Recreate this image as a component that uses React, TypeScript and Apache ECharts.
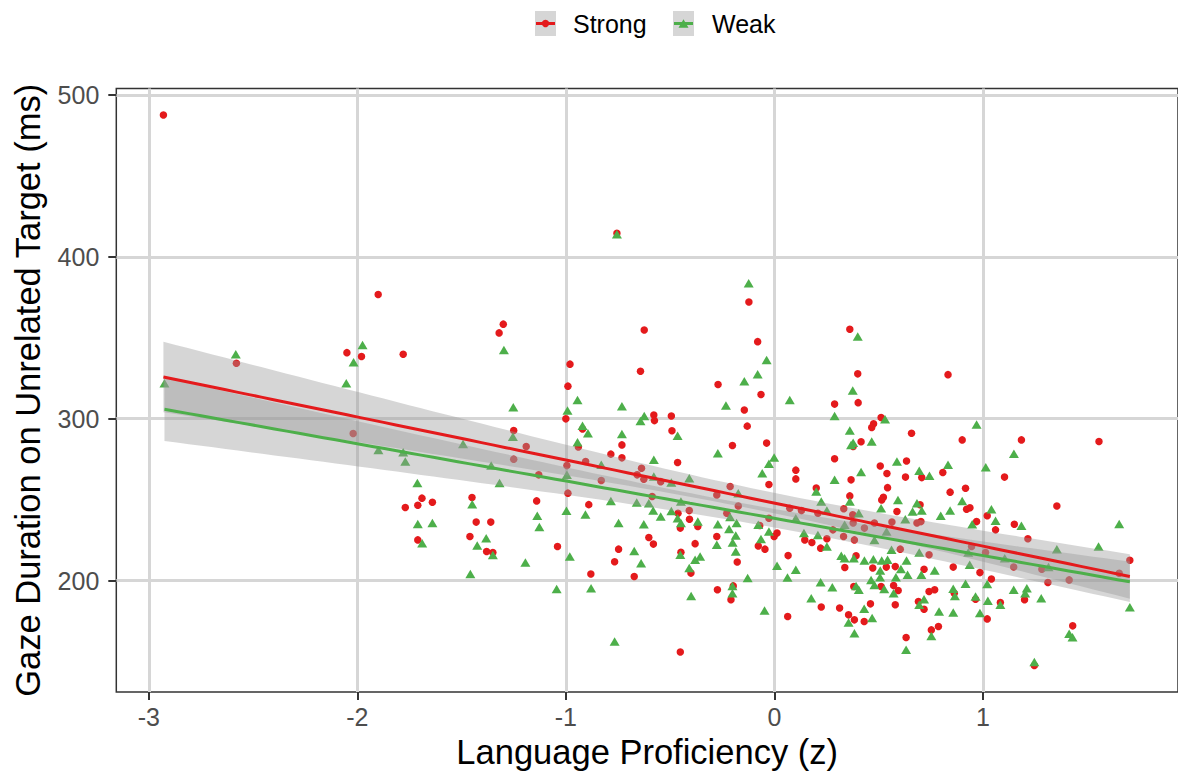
import { useEffect, useRef } from 'react';
import * as echarts from 'echarts';

// Gaze duration (ms) against language proficiency (z), per condition
const strongPoints: [number, number][] = [
  [-2.93, 487.6], [-2.58, 334.3], [-2.05, 340.8], [-1.98, 338.4], [-2.02, 290.8], [-1.9, 376.7],
  [-1.78, 339.8], [-1.77, 245.1], [-1.71, 246.5], [-1.71, 225.1], [-1.69, 250.9], [-1.64, 248.4],
  [-1.45, 251.3], [-1.43, 236.1], [-1.36, 236.1], [-1.46, 227.2], [-1.38, 217.9], [-1.35, 217.3],
  [-1.3, 358.4], [-1.32, 353.0], [-1.25, 292.7], [-1.19, 282.8], [-1.25, 275.0], [-1.13, 265.3],
  [-1.14, 249.2], [-0.98, 333.7], [-0.99, 320.1], [-1.0, 299.9], [-0.92, 293.7], [-0.94, 282.5],
  [-0.995, 271.0], [-0.905, 273.5], [-0.83, 261.8], [-0.99, 254.0], [-1.04, 221.0], [-0.89, 246.9],
  [-0.88, 204.0], [-0.755, 414.5], [-0.624, 354.8], [-0.642, 329.3], [-0.578, 302.2], [-0.575, 298.8],
  [-0.494, 301.7], [-0.731, 283.8], [-0.784, 278.1], [-0.731, 275.8], [-0.491, 292.5], [-0.464, 272.9],
  [-0.637, 269.4], [-0.658, 265.3], [-0.626, 262.6], [-0.545, 261.1], [-0.747, 219.4], [-0.766, 211.6],
  [-0.586, 251.9], [-0.602, 226.6], [-0.58, 222.5], [-0.672, 202.5], [-0.462, 241.6], [-0.407, 237.9],
  [-0.451, 232.4], [-0.448, 217.5], [-0.408, 243.2], [-0.4, 204.6], [-0.451, 155.8], [-0.38, 222.8],
  [-0.367, 233.4], [-0.122, 372.1], [-0.08, 347.6], [-0.27, 321.1], [-0.064, 314.9], [-0.144, 305.4],
  [-0.13, 295.4], [-0.201, 283.4], [-0.037, 284.9], [-0.026, 259.3], [-0.212, 258.1], [-0.276, 252.9],
  [-0.228, 241.6], [-0.173, 246.1], [-0.276, 227.2], [-0.273, 194.3], [-0.208, 188.1], [-0.197, 196.7],
  [-0.178, 211.4], [-0.077, 221.4], [-0.045, 219.4], [-0.001, 227.2], [0.013, 229.3], [-0.07, 234.0],
  [-0.026, 238.5], [0.066, 215.4], [0.064, 177.8], [0.362, 355.3], [0.4, 327.7], [0.402, 309.9],
  [0.289, 309.0], [0.512, 300.7], [0.476, 296.8], [0.467, 294.5], [0.658, 291.0], [0.416, 285.7],
  [0.378, 282.8], [0.289, 275.2], [0.103, 268.2], [0.103, 262.8], [0.508, 270.8], [0.54, 266.1],
  [0.634, 273.9], [0.629, 263.9], [0.707, 263.6], [0.808, 266.7], [0.368, 262.2], [0.201, 257.1],
  [0.543, 257.4], [0.362, 252.3], [0.523, 251.5], [0.515, 249.8], [0.588, 242.6], [0.699, 246.8],
  [0.684, 235.5], [0.703, 236.4], [0.333, 244.3], [0.376, 240.6], [0.378, 235.5], [0.432, 232.4],
  [0.48, 235.5], [0.564, 236.1], [0.332, 227.2], [0.384, 225.1], [0.281, 231.3], [0.209, 241.6],
  [0.13, 243.2], [0.074, 244.7], [0.252, 225.8], [0.146, 225.1], [0.18, 223.5], [0.222, 220.0],
  [0.604, 219.4], [0.742, 215.9], [0.392, 215.3], [0.338, 208.0], [0.472, 207.7], [0.537, 208.3],
  [0.58, 208.6], [0.718, 207.0], [0.512, 196.3], [0.572, 196.9], [0.594, 193.8], [0.381, 196.3],
  [0.225, 183.6], [0.313, 183.0], [0.461, 185.6], [0.356, 178.8], [0.384, 175.7], [0.431, 174.7],
  [0.58, 185.0], [0.718, 182.3], [0.691, 187.0], [0.742, 193.2], [0.769, 194.3], [0.787, 171.6],
  [0.753, 169.5], [0.632, 164.8], [0.833, 327.2], [0.901, 286.9], [1.185, 286.9], [1.557, 285.9],
  [1.104, 263.9], [0.917, 257.0], [0.843, 254.6], [0.922, 244.0], [0.938, 245.0], [1.021, 240.0],
  [0.97, 236.4], [1.061, 231.3], [1.151, 234.8], [1.216, 225.8], [1.355, 246.1], [1.705, 212.5],
  [1.654, 204.5], [0.946, 221.0], [1.013, 217.3], [1.148, 208.3], [1.283, 207.0], [1.312, 198.8],
  [1.414, 200.4], [0.858, 208.3], [0.986, 204.9], [1.041, 200.9], [0.863, 192.2], [0.965, 188.5],
  [1.084, 186.4], [1.2, 188.1], [1.021, 176.3], [1.431, 172.0], [1.247, 147.5],
];

const weakPoints: [number, number][] = [
  [-2.925, 321.9], [-2.583, 339.8], [-2.053, 321.9], [-1.975, 345.6], [-2.018, 334.9], [-1.899, 280.7],
  [-1.78, 279.3], [-1.77, 273.5], [-1.712, 260.3], [-1.71, 235.0], [-1.64, 235.5], [-1.689, 223.1],
  [-1.449, 247.2], [-1.382, 226.2], [-1.425, 221.6], [-1.35, 215.7], [-1.458, 204.0], [-1.297, 342.5],
  [-1.252, 307.1], [-1.254, 288.9], [-1.493, 284.4], [-1.358, 271.0], [-1.318, 260.2], [-1.137, 240.1],
  [-1.127, 233.0], [-1.194, 211.1], [-0.944, 311.6], [-0.992, 305.0], [-0.92, 295.7], [-0.894, 291.0],
  [-0.944, 285.5], [-0.995, 265.3], [-0.83, 271.5], [-0.997, 243.1], [-0.981, 214.8], [-1.044, 194.7],
  [-0.906, 240.8], [-0.879, 195.3], [-0.755, 414.0], [-0.731, 307.7], [-0.624, 301.7], [-0.642, 298.6],
  [-0.731, 290.6], [-0.464, 289.4], [-0.578, 274.6], [-0.578, 264.2], [-0.494, 260.5], [-0.408, 263.2],
  [-0.784, 249.2], [-0.747, 235.5], [-0.766, 162.3], [-0.66, 248.2], [-0.602, 247.8], [-0.626, 234.8],
  [-0.581, 243.2], [-0.545, 239.5], [-0.672, 218.2], [-0.639, 210.7], [-0.494, 242.9], [-0.464, 238.5],
  [-0.448, 235.5], [-0.451, 215.9], [-0.448, 248.8], [-0.38, 212.8], [-0.408, 207.7], [-0.399, 190.5],
  [-0.123, 383.7], [-0.037, 336.3], [-0.08, 327.5], [-0.144, 323.2], [-0.232, 308.1], [0.074, 311.6],
  [-0.271, 278.7], [-0.001, 276.0], [-0.026, 272.1], [-0.058, 266.3], [-0.047, 181.5], [-0.128, 201.5],
  [-0.201, 196.7], [-0.201, 192.2], [-0.185, 217.9], [-0.064, 225.6], [-0.026, 230.3], [-0.077, 234.4],
  [-0.276, 222.1], [-0.356, 214.8], [-0.2, 223.5], [-0.185, 227.8], [-0.217, 231.9], [-0.181, 235.5],
  [-0.271, 234.8], [-0.367, 236.4], [-0.212, 239.2], [-0.173, 254.0], [0.4, 350.7], [0.376, 317.4],
  [0.289, 301.7], [0.531, 299.7], [0.362, 292.7], [0.378, 285.2], [0.368, 283.8], [0.467, 285.9],
  [0.416, 267.0], [0.588, 273.5], [0.695, 267.8], [0.744, 264.7], [0.289, 262.2], [0.201, 255.0],
  [0.362, 248.8], [0.593, 249.8], [0.225, 248.8], [0.512, 244.7], [0.684, 247.8], [0.663, 242.6],
  [0.707, 243.2], [0.798, 240.1], [0.628, 237.9], [0.252, 243.2], [0.405, 241.6], [0.337, 234.4],
  [0.538, 230.3], [0.48, 225.1], [0.103, 238.5], [0.142, 229.3], [0.209, 228.2], [0.252, 221.0],
  [0.562, 219.0], [0.695, 217.3], [0.321, 215.3], [0.337, 213.8], [0.381, 213.8], [0.432, 212.4],
  [0.475, 213.2], [0.515, 212.4], [0.543, 212.8], [0.634, 212.4], [0.508, 206.2], [0.607, 207.2],
  [0.769, 206.2], [0.705, 203.5], [0.639, 203.5], [0.583, 202.1], [0.507, 202.1], [0.464, 200.4],
  [0.48, 197.3], [0.527, 194.7], [0.572, 192.2], [0.392, 196.7], [0.405, 194.3], [0.222, 199.0],
  [0.278, 195.9], [0.063, 201.9], [0.103, 206.6], [0.013, 209.1], [0.177, 189.1], [0.431, 182.5],
  [0.356, 174.1], [0.469, 176.8], [0.384, 167.5], [0.695, 185.0], [0.718, 188.5], [0.79, 180.9],
  [0.753, 165.8], [0.632, 157.2], [0.97, 296.4], [1.149, 278.3], [0.833, 271.5], [1.014, 270.0],
  [0.901, 249.2], [0.843, 243.2], [1.041, 244.1], [0.949, 234.8], [1.061, 236.9], [1.185, 233.8],
  [1.654, 235.0], [1.555, 221.0], [1.705, 183.5], [1.355, 219.4], [0.93, 217.3], [0.937, 209.7],
  [1.105, 213.8], [1.315, 208.3], [1.021, 197.8], [0.917, 198.0], [0.858, 194.9], [0.866, 190.5],
  [0.965, 190.1], [1.024, 187.5], [1.084, 185.0], [1.148, 194.3], [1.211, 195.3], [1.203, 192.2],
  [1.28, 189.1], [0.858, 180.2], [0.986, 179.9], [1.414, 167.1], [1.43, 165.0], [1.247, 149.6],
];

const groupNames = ['Strong', 'Weak'];
const groupColors = ['#E41A1C', '#4DAF4A'];
const xTicks = [-3, -2, -1, 0, 1];
const yTicks = [200, 300, 400, 500];
const xRange = [-3.156, 1.936];
const yRange = [131.07, 504.0];

const FONT = '"Liberation Sans", Arial, Helvetica, sans-serif';

// Ordinary least squares with a 95% confidence band, like geom_smooth(method = "lm")
function linearFit(points: [number, number][]) {
  const n = points.length;
  let mx = 0;
  let my = 0;
  points.forEach(([x, y]) => { mx += x; my += y; });
  mx /= n;
  my /= n;
  let sxx = 0;
  let sxy = 0;
  points.forEach(([x, y]) => { sxx += (x - mx) ** 2; sxy += (x - mx) * (y - my); });
  const slope = sxy / sxx;
  const intercept = my - slope * mx;
  let sse = 0;
  points.forEach(([x, y]) => { sse += (y - (intercept + slope * x)) ** 2; });
  const s = Math.sqrt(sse / (n - 2));
  const tCrit = 1.972;
  const xs = points.map((p) => p[0]);
  const x0 = Math.min(...xs);
  const x1 = Math.max(...xs);
  const steps = 80;
  const line: [number, number][] = [];
  const upper: [number, number][] = [];
  const lower: [number, number][] = [];
  for (let i = 0; i < steps; i++) {
    const x = x0 + ((x1 - x0) * i) / (steps - 1);
    const yHat = intercept + slope * x;
    const se = s * Math.sqrt(1 / n + (x - mx) ** 2 / sxx);
    line.push([x, yHat]);
    upper.push([x, yHat + tCrit * se]);
    lower.push([x, yHat - tCrit * se]);
  }
  return { line, upper, lower };
}

export default function App() {
  const ref = useRef<HTMLDivElement>(null);

  useEffect(() => {
    document.body.style.margin = '0';
    if (!ref.current) return;
    const chart = echarts.init(ref.current, undefined, { renderer: 'svg' });
    const fits = [linearFit(strongPoints), linearFit(weakPoints)];

    const bandSeries = fits.map((f, i) => ({
      type: 'custom',
      name: groupNames[i] + ' band',
      z: 3,
      silent: true,
      data: [[f.lower[0][0], f.lower[0][1]]],
      renderItem: (_params: any, api: any) => ({
        type: 'polygon',
        shape: {
          points: [...f.upper, ...f.lower.slice().reverse()].map((p) => api.coord(p)),
        },
        style: { fill: 'rgba(153,153,153,0.4)' },
      }),
    }));

    const lineSeries = fits.map((f, i) => ({
      type: 'line',
      name: groupNames[i] + ' fit',
      z: 4,
      data: f.line,
      symbol: 'none',
      lineStyle: { color: groupColors[i], width: 3 },
      silent: true,
    }));

    const scatterSeries = [
      {
        type: 'scatter',
        name: groupNames[0],
        data: strongPoints,
        symbol: 'circle',
        symbolSize: 7.5,
        itemStyle: { color: groupColors[0], opacity: 1 },
        z: 2,
      },
      {
        type: 'scatter',
        name: groupNames[1],
        data: weakPoints,
        symbol: 'triangle',
        symbolSize: [10, 8.5],
        itemStyle: { color: groupColors[1], opacity: 1 },
        z: 2,
      },
    ];

    // Legend: grey key box with the group's line and marker, then the label
    const legendGraphics: any[] = [];
    const keyX = [535, 673];
    const textX = [573, 712];
    groupNames.forEach((name, i) => {
      const kx = keyX[i];
      legendGraphics.push(
        { type: 'rect', shape: { x: kx, y: 11, width: 21, height: 25 }, style: { fill: '#d6d6d6' } },
        { type: 'line', shape: { x1: kx + 1, y1: 23.5, x2: kx + 20, y2: 23.5 }, style: { stroke: groupColors[i], lineWidth: 3 } },
      );
      if (i === 0) {
        legendGraphics.push({ type: 'circle', shape: { cx: kx + 10.5, cy: 23.5, r: 3.7 }, style: { fill: groupColors[i] } });
      } else {
        legendGraphics.push({
          type: 'polygon',
          shape: { points: [[kx + 10.5, 19.2], [kx + 15.5, 27.7], [kx + 5.5, 27.7]] },
          style: { fill: groupColors[i] },
        });
      }
      legendGraphics.push({
        type: 'text',
        x: textX[i],
        y: 24,
        style: { text: name, font: `25px ${FONT}`, fill: '#000000', verticalAlign: 'middle', align: 'left' },
      });
    });

    chart.setOption({
      animation: false,
      backgroundColor: '#ffffff',
      grid: {
        left: 116.3,
        top: 88.5,
        right: -5.2,
        bottom: 81.7,
        show: true,
        borderColor: '#333333',
        borderWidth: 1.5,
        containLabel: false,
      },
      xAxis: {
        type: 'value',
        min: xRange[0],
        max: xRange[1],
        name: 'Language Proficiency (z)',
        nameLocation: 'middle',
        nameGap: 40,
        nameTextStyle: { fontSize: 34.5, color: '#000000', fontFamily: FONT },
        axisLine: { show: false, onZero: false },
        axisTick: { show: true, length: 8, lineStyle: { color: '#333333', width: 2 }, customValues: xTicks },
        axisLabel: { fontSize: 25, color: '#4d4d4d', fontFamily: FONT, margin: 12, customValues: xTicks },
        splitLine: { show: true, lineStyle: { color: '#d6d6d6', width: 3 } },
      },
      yAxis: {
        type: 'value',
        min: yRange[0],
        max: yRange[1],
        name: 'Gaze Duration on Unrelated Target (ms)',
        nameLocation: 'middle',
        nameGap: 71,
        nameTextStyle: { fontSize: 34.5, color: '#000000', fontFamily: FONT },
        axisLine: { show: false, onZero: false },
        axisTick: { show: true, length: 8, lineStyle: { color: '#333333', width: 2 }, customValues: yTicks },
        axisLabel: { fontSize: 25, color: '#4d4d4d', fontFamily: FONT, margin: 17, customValues: yTicks },
        splitLine: { show: true, lineStyle: { color: '#d6d6d6', width: 3 } },
      },
      series: [...scatterSeries, ...bandSeries, ...lineSeries],
      graphic: legendGraphics,
    });

    return () => chart.dispose();
  }, []);

  return (
    <div
      ref={ref}
      style={{ position: 'fixed', left: 0, top: 0, width: 1178, height: 774 }}
    />
  );
}
